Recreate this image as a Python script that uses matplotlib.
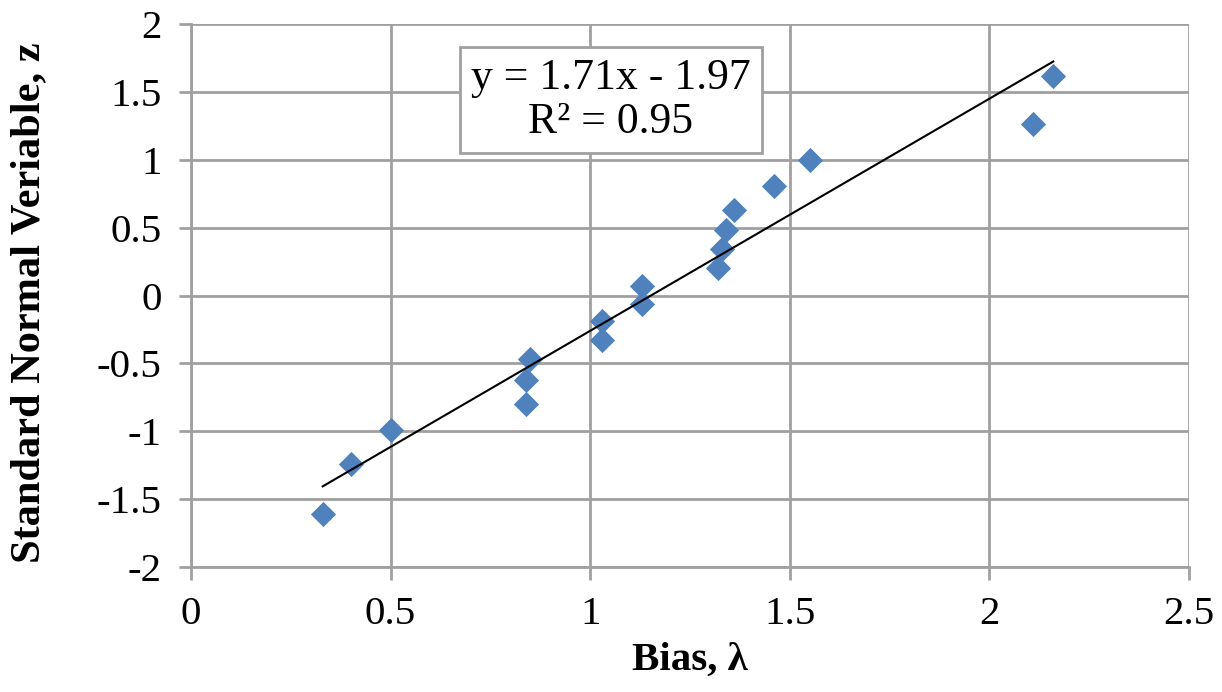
import numpy as np
import matplotlib.pyplot as plt

plt.rcParams['font.family'] = ['Liberation Serif', 'DejaVu Serif']

# data
bias = [0.33, 0.40, 0.50, 0.84, 0.84, 0.85, 1.03, 1.03, 1.13, 1.13,
        1.32, 1.33, 1.34, 1.36, 1.46, 1.55, 2.11, 2.16]
z = [-1.61, -1.24, -0.99, -0.80, -0.62, -0.47, -0.33, -0.19, -0.06, 0.07,
     0.20, 0.34, 0.48, 0.63, 0.81, 1.00, 1.26, 1.62]
slope = 1.71
intercept = -1.97
r2 = 0.95

xticks = [0, 0.5, 1, 1.5, 2, 2.5]
xtick_labels = ['0', '0.5', '1', '1.5', '2', '2.5']
yticks = [-2, -1.5, -1, -0.5, 0, 0.5, 1, 1.5, 2]
ytick_labels = ['-2', '-1.5', '-1', '-0.5', '0', '0.5', '1', '1.5', '2']

fig = plt.figure(figsize=(12.22, 6.92), dpi=100)
ax = fig.add_axes([0.1563, 0.1806, 0.8167, 0.7847])

grid_col = '#A0A0A0'
ax.set_xlim(0, 2.5)
ax.set_ylim(-2, 2)
ax.set_xticks(xticks)
ax.set_xticklabels(xtick_labels)
ax.set_yticks(yticks)
ax.set_yticklabels(ytick_labels)
ax.grid(True, color=grid_col, linewidth=2)
ax.set_axisbelow(True)
for s in ['top', 'right']:
    ax.spines[s].set_visible(False)
for s in ['left', 'bottom']:
    ax.spines[s].set_color(grid_col)
    ax.spines[s].set_linewidth(2)
ax.tick_params(axis='both', direction='out', length=9, width=2, color=grid_col,
               labelsize=29.5, pad=12)

ax.scatter(bias, z, marker='D', s=165, color='#4F81BD', zorder=3, linewidths=0)

xs = np.array([min(bias), max(bias)])
ax.plot(xs, slope * xs + intercept, color='black', linewidth=1.5, zorder=4)

ax.text(1.052, 1.44, 'y = %.2fx - %.2f\nR² = %.2f' % (slope, -intercept, r2),
        ha='center', va='center', fontsize=31.5, linespacing=1.15,
        bbox=dict(boxstyle='square,pad=0.25', facecolor='white', edgecolor=grid_col, linewidth=2),
        zorder=5)

ax.set_xlabel('Bias, λ', fontsize=29.5, fontweight='bold', labelpad=6)
ax.set_ylabel('Standard Normal Veriable, z', fontsize=30.5, fontweight='bold')
ax.yaxis.set_label_coords(-0.143, 0.486)

fig.savefig('out.png', dpi=100)
